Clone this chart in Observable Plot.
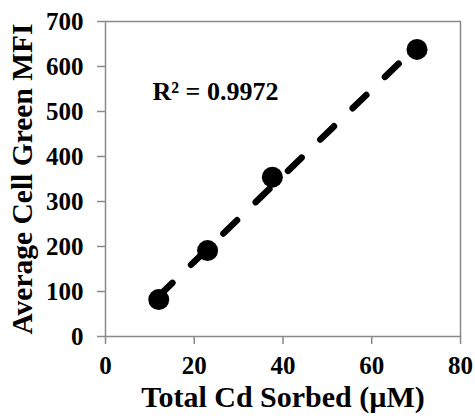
<!DOCTYPE html>
<html>
<head>
<meta charset="utf-8">
<script src="https://cdn.jsdelivr.net/npm/d3@7"></script>
<script src="https://cdn.jsdelivr.net/npm/@observablehq/plot@0.6"></script>
<style>
  html, body { margin: 0; padding: 0; background: #fff; }
  #chart svg g[aria-label="x-axis tick"],
  #chart svg g[aria-label="y-axis tick"] { stroke: #8a8a8a; stroke-width: 1.5px; }
</style>
</head>
<body>
<div id="chart"></div>
<script>
const cdSorbed = [12.0, 23.0, 37.6, 70.2];
const greenMFI = [82, 191, 354, 638];
const xTicks = [0, 20, 40, 60, 80];
const yTicks = [0, 100, 200, 300, 400, 500, 600, 700];
const xTitle = "Total Cd Sorbed (µM)";
const yTitle = "Average Cell Green MFI";
const r2Label = "R² = 0.9972";

const data = cdSorbed.map((x, i) => ({x, y: greenMFI[i]}));
const axisColor = "#8a8a8a";

const chart = Plot.plot({
  width: 475, height: 418,
  marginLeft: 105, marginRight: 15, marginTop: 21, marginBottom: 82,
  style: {fontFamily: "'Liberation Serif', 'Times New Roman', serif", fontWeight: "bold", fontSize: "25px", color: "#000", background: "#fff"},
  x: {domain: [0, 80]}, y: {domain: [0, 700]},
  marks: [
    Plot.frame({stroke: axisColor, strokeWidth: 1.5}),
    Plot.axisX({ticks: xTicks, tickSize: 8, tickPadding: 12, fontSize: 25, label: null}),
    Plot.axisY({ticks: yTicks, tickSize: 8, tickPadding: 14, fontSize: 25, label: null}),
    Plot.linearRegressionY(data, {x: "x", y: "y", ci: 0, stroke: "#000", strokeWidth: 6.5, strokeDasharray: "19,26", strokeLinecap: "round"}),
    Plot.dot(data, {x: "x", y: "y", r: 10.5, fill: "#000", stroke: "none"}),
    Plot.text([xTitle], {frameAnchor: "bottom", textAnchor: "middle", lineAnchor: "middle", dy: 61, fontSize: 30, fill: "#000"}),
    Plot.text([yTitle], {frameAnchor: "left", textAnchor: "middle", lineAnchor: "middle", dx: -82.6, rotate: -90, fontSize: 29.5, fill: "#000"}),
    Plot.text([r2Label], {frameAnchor: "top-left", textAnchor: "start", lineAnchor: "middle", dx: 47, dy: 69.7, fontSize: 26, fill: "#000"})
  ]
});
document.getElementById("chart").appendChild(chart);
</script>
</body>
</html>
